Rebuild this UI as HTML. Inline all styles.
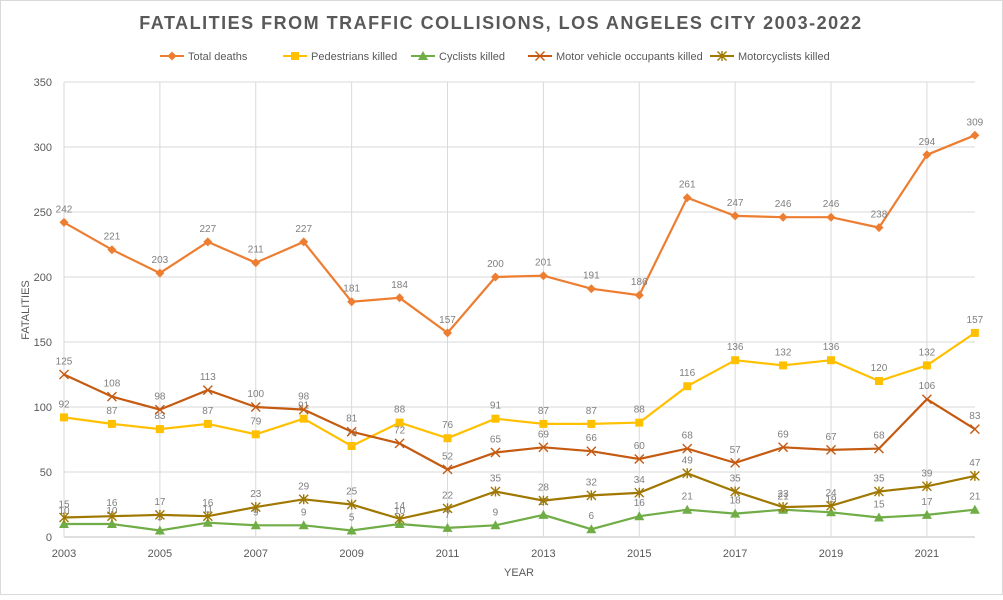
<!DOCTYPE html>
<html><head><meta charset="utf-8"><style>
body{margin:0;background:#fff;font-family:"Liberation Sans",sans-serif}
svg text{font-family:"Liberation Sans",sans-serif}
</style></head><body>
<svg id="c" width="1003" height="595" xmlns="http://www.w3.org/2000/svg">
<rect x="0.5" y="0.5" width="1002" height="594" fill="#fff" stroke="#d9d9d9"/>
<text x="501" y="29" text-anchor="middle" font-size="18" font-weight="bold" fill="#595959" letter-spacing="1.5">FATALITIES FROM TRAFFIC COLLISIONS, LOS ANGELES CITY 2003-2022</text>
<g id="grid"></g><g id="axes"></g><g id="series"></g><g id="legend"></g>
<text x="519" y="576" text-anchor="middle" font-size="11" fill="#595959">YEAR</text>
<text transform="translate(29,310) rotate(-90)" text-anchor="middle" font-size="11" fill="#595959">FATALITIES</text>
</svg>
<script>
const years=[2003,2004,2005,2006,2007,2008,2009,2010,2011,2012,2013,2014,2015,2016,2017,2018,2019,2020,2021,2022];
const totalDeaths=[242,221,203,227,211,227,181,184,157,200,201,191,186,261,247,246,246,238,294,309];
const pedestrians=[92,87,83,87,79,91,70,88,76,91,87,87,88,116,136,132,136,120,132,157];
const cyclists=[10,10,5,11,9,9,5,10,7,9,17,6,16,21,18,21,19,15,17,21];
const occupants=[125,108,98,113,100,98,81,72,52,65,69,66,60,68,57,69,67,68,106,83];
const motorcyclists=[15,16,17,16,23,29,25,14,22,35,28,32,34,49,35,23,24,35,39,47];
const yTicks=[0,50,100,150,200,250,300,350];
const xTicks=[2003,2005,2007,2009,2011,2013,2015,2017,2019,2021];
const seriesNames=["Total deaths","Pedestrians killed","Cyclists killed","Motor vehicle occupants killed","Motorcyclists killed"];

const NS="http://www.w3.org/2000/svg";
const x=y=>64+(y-2003)*47.94;
const yS=v=>537-v*1.3;
function mk(tag,attrs,parent){const e=document.createElementNS(NS,tag);for(const k in attrs)e.setAttribute(k,attrs[k]);parent.appendChild(e);return e;}
const grid=document.getElementById('grid'),axes=document.getElementById('axes'),ser=document.getElementById('series'),leg=document.getElementById('legend');
yTicks.forEach(t=>{
 const l=mk('line',{x1:64,x2:975,y1:yS(t),y2:yS(t),stroke:t===0?'#bfbfbf':'#d9d9d9'},grid);
 
 
 const tx=mk('text',{x:52,y:yS(t)+4,'text-anchor':'end','font-size':11,fill:'#595959'},axes);tx.textContent=t;
 
 
});
xTicks.forEach(t=>{
 const l=mk('line',{x1:x(t),x2:x(t),y1:82,y2:537,stroke:'#d9d9d9'},grid);
 
 
 const tx=mk('text',{x:x(t),y:557,'text-anchor':'middle','font-size':11,fill:'#595959'},axes);tx.textContent=t;
 
 
});
const colors=['#ed7d31','#ffc000','#70ad47','#c55a11','#a07800'];
const markers=['diamond','square','triangle','x','star'];
function marker(type,cx,cy,col,p){
 let e;
 if(type==='diamond')e=mk('polygon',{points:`${cx},${cy-4.5} ${cx+4.5},${cy} ${cx},${cy+4.5} ${cx-4.5},${cy}`,fill:col},p);
 else if(type==='square')e=mk('rect',{x:cx-4,y:cy-4,width:8,height:8,fill:col},p);
 else if(type==='triangle')e=mk('polygon',{points:`${cx},${cy-5} ${cx+5},${cy+4} ${cx-5},${cy+4}`,fill:col},p);
 else if(type==='x')e=mk('path',{d:`M${cx-4.5},${cy-4.5}L${cx+4.5},${cy+4.5}M${cx-4.5},${cy+4.5}L${cx+4.5},${cy-4.5}`,stroke:col,'stroke-width':1.4,fill:'none'},p);
 else e=mk('path',{d:`M${cx-4.5},${cy-4.5}L${cx+4.5},${cy+4.5}M${cx-4.5},${cy+4.5}L${cx+4.5},${cy-4.5}M${cx},${cy-5}L${cx},${cy+5}`,stroke:col,'stroke-width':1.4,fill:'none'},p);
 return e;
}
[totalDeaths,pedestrians,cyclists,occupants,motorcyclists].forEach((arr,si)=>{
 const g=mk('g',{},ser);
 
 
 const pl=mk('polyline',{points:arr.map((v,i)=>x(years[i])+','+yS(v)).join(' '),fill:'none',stroke:colors[si],'stroke-width':2.2},g);
 
 
 arr.forEach((v,i)=>{
  const m=marker(markers[si],x(years[i]),yS(v),colors[si],g);
  
  
  const t=mk('text',{x:x(years[i]),y:yS(v)-10,'text-anchor':'middle','font-size':10,fill:'#7f7f7f'},g);t.textContent=v;
  
  
 });
});
const lx=[160,283,411,528,710];
seriesNames.forEach((n,i)=>{
 const g=mk('g',{},leg);
 
 
 mk('line',{x1:lx[i],x2:lx[i]+24,y1:56,y2:56,stroke:colors[i],'stroke-width':2},g);
 marker(markers[i],lx[i]+12,56,colors[i],g);
 const t=mk('text',{x:lx[i]+28,y:60,'font-size':11,fill:'#595959'},g);t.textContent=n;
});
</script>
</body></html>
